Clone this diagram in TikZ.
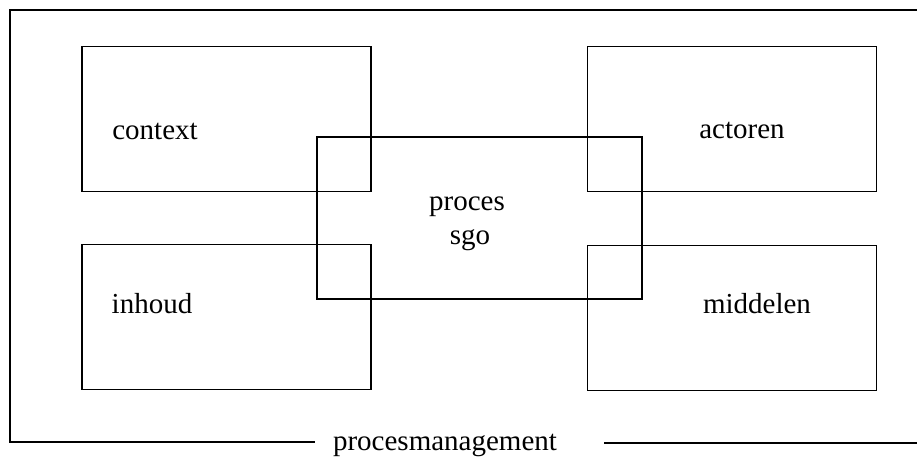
\documentclass[tikz,border=0pt]{standalone}
\usepackage{fontspec}
\setmainfont{Liberation Serif}
\usetikzlibrary{positioning}
\tikzset{
	vak/.style={draw, line width=1.6pt, minimum width=289pt, minimum height=145pt, inner sep=0pt},
	kern/.style={draw, line width=1.6pt, minimum width=325pt, minimum height=162pt, inner sep=0pt},
	woord/.style={anchor=base, inner sep=0pt, font=\fontsize{29}{34}\selectfont}
}

\begin{document}
\begin{tikzpicture}[x=1pt, y=-1pt]
		%%%%% START %%%%%
		\useasboundingbox (0, 0) rectangle (917, 457);
		
		\node[vak] (context) at (226.5, 119) {};
		\node[vak] (actoren) at (732, 119) {};
		\node[vak] (inhoud) at (226.5, 317) {};
		\node[vak] (middelen) at (732, 318) {};
		
		\node[kern] (proces) at (479.5, 218) {};
		
		\node[woord] (tcontext) at (155, 140) {context};
		\node[woord] (tactoren) at (742, 139) {actoren};
		\node[woord] (tinhoud) at (152, 313) {inhoud};
		\node[woord] (tmiddelen) at (757, 313) {middelen};
		\node[woord] (tproces) at (467, 210) {proces};
		\node[woord] (tsgo) at (470, 244) {sgo};
		
		\node[woord] (pm) at (445, 450) {procesmanagement};
		
		\coordinate (ol) at (10, 442);
		\coordinate (lb) at (10, 10);
		\coordinate (rb) at (917, 10);
		\coordinate (or) at (917, 443);
		\draw[line width=1.6pt] ([xshift=-18pt, yshift=8pt]pm.base west) -- (ol) -- (lb) -- (rb);
		\draw[line width=1.6pt] ([xshift=47pt, yshift=7pt]pm.base east) -- (or);
		%%%%% END %%%%%
	\end{tikzpicture}
\end{document}
